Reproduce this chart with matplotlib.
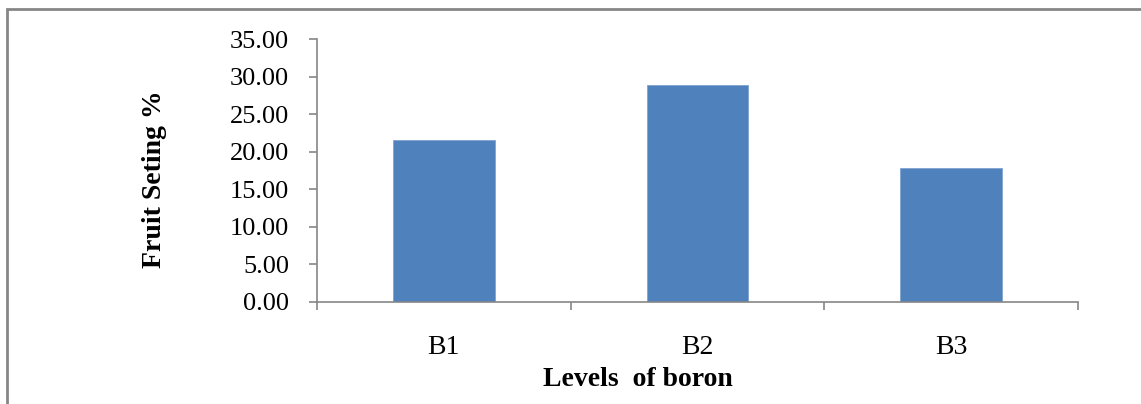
import matplotlib.pyplot as plt
from matplotlib.patches import Rectangle

niveles = ["B1", "B2", "B3"]
cuajado = [21.6, 28.9, 17.8]
marcas_y = [0, 5, 10, 15, 20, 25, 30, 35]

plt.rcParams["font.family"] = ["Liberation Serif", "DejaVu Serif"]

fig = plt.figure(figsize=(11.41, 4.04), dpi=100)
ax = fig.add_axes([0.2778, 0.2532, 0.667, 0.6495])

x = list(range(len(niveles)))
ax.bar(x, cuajado, width=0.4, color="#4F81BD", edgecolor="#7FA3D0", linewidth=0.6)

ax.set_xlim(-0.5, 2.5)
ax.set_ylim(0, 35)
ax.set_yticks(marcas_y)
ax.set_yticklabels(["%.2f" % v for v in marcas_y])
ax.set_xticks(x)
ax.set_xticklabels(niveles)
ax.set_xticks([-0.5, 0.5, 1.5, 2.5], minor=True)

gris = "#868686"
for lado in ["top", "right"]:
    ax.spines[lado].set_visible(False)
for lado in ["left", "bottom"]:
    ax.spines[lado].set_color(gris)
    ax.spines[lado].set_linewidth(1.2)

ax.tick_params(axis="y", direction="out", length=6, width=1.2, color=gris, labelsize=19, pad=14)
ax.tick_params(axis="x", which="major", length=0, labelsize=20, pad=24)
ax.tick_params(axis="x", which="minor", direction="out", length=6, width=1.2, color=gris)

ax.set_ylabel("Fruit Seting %", fontsize=20, fontweight="bold")
ax.yaxis.label.set_va("center")
ax.yaxis.set_label_coords(-0.213, 0.468)
ax.set_xlabel("Levels  of boron", fontsize=20, fontweight="bold")
ax.xaxis.label.set_va("center")
ax.xaxis.set_label_coords(0.422, -0.298)

# marco gris de la figura (solo se ve arriba y a la izquierda)
fig.patches.append(Rectangle((7 / 1141, -0.1), 1.2, 1 - 9 / 404 + 0.1, transform=fig.transFigure,
                             fill=False, edgecolor=gris, linewidth=2))

fig.savefig("out.png", dpi=100)
